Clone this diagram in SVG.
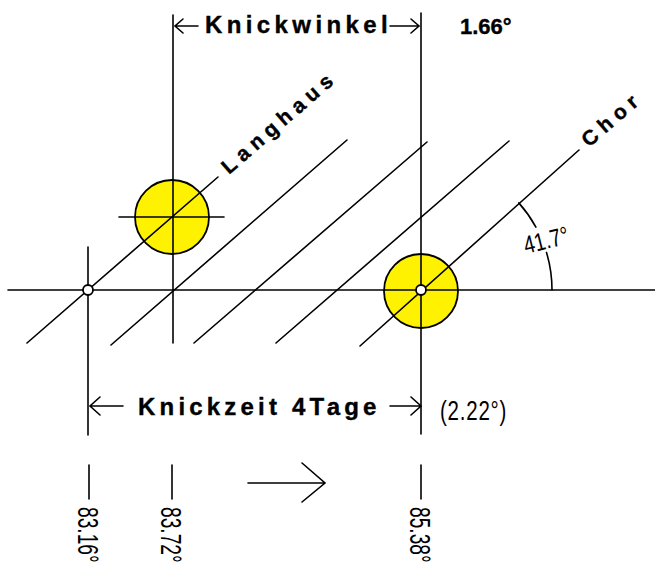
<svg xmlns="http://www.w3.org/2000/svg" width="655" height="566" viewBox="0 0 655 566">
<style>
.ln{stroke:#000;stroke-width:1.6;fill:none;stroke-linecap:round}
.sun{fill:#FFF200;stroke:#000;stroke-width:1.8}
.dot{fill:#fff;stroke:#000;stroke-width:1.8}
.bt{font-family:"Liberation Sans",Arial,sans-serif;font-weight:bold;fill:#000;stroke:#000;stroke-width:0.4}
.nt{font-family:"Liberation Sans",Arial,sans-serif;fill:#000}
</style>
<rect width="655" height="566" fill="#fff"/>
<g id="sun-langhaus"><circle class="sun" cx="172" cy="217" r="37"/></g>
<g id="sun-chor"><circle class="sun" cx="421" cy="291" r="37"/></g>
<g id="connectors">
<line class="ln" x1="8" y1="290" x2="655" y2="290"/>
<line class="ln" x1="173" y1="15" x2="173" y2="343"/>
<line class="ln" x1="421" y1="13" x2="421" y2="434"/>
<line class="ln" x1="88" y1="247" x2="88" y2="435"/>
<line class="ln" x1="119" y1="217" x2="224" y2="217"/>
<line class="ln" x1="27" y1="343" x2="218" y2="177"/>
<line class="ln" x1="111" y1="345" x2="347" y2="140"/>
<line class="ln" x1="194" y1="343" x2="427" y2="142"/>
<line class="ln" x1="276" y1="343" x2="509" y2="141"/>
<line class="ln" x1="360" y1="346" x2="579" y2="150"/>
<path class="ln" d="M518.8,202.9 A131,131 0 0 1 535.9,227.1 M546.5,252.4 A131,131 0 0 1 552,290"/>
<path class="ln" d="M175,26 H198 M183,19 L175,26 L183,33"/>
<path class="ln" d="M390,26 H419 M411,19 L419,26 L411,33"/>
<path class="ln" d="M90,406 H123 M100,397 L90,406 L100,415"/>
<path class="ln" d="M390,406 H421 M411,397 L421,406 L411,415"/>
<line class="ln" x1="89" y1="465" x2="89" y2="499"/>
<line class="ln" x1="172" y1="465" x2="172" y2="499"/>
<line class="ln" x1="421" y1="465" x2="421" y2="499"/>
<path class="ln" d="M248,483 H325 M302,463 L325,483 L302,502" stroke-width="2.6"/>
</g>
<g id="dot-left"><circle class="dot" cx="88" cy="290" r="5"/></g>
<g id="dot-right"><circle class="dot" cx="421" cy="290" r="5"/></g>
<g id="labels">
<text class="bt" x="205" y="33" font-size="24" letter-spacing="4.4">Knickwinkel</text>
<text class="bt" x="460" y="34" font-size="22">1.66°</text>
<text class="bt" font-size="21" letter-spacing="5.8" transform="translate(229,175) rotate(-41)">Langhaus</text>
<text class="bt" font-size="21" letter-spacing="6" transform="translate(589,148) rotate(-41)">Chor</text>
<text class="nt" font-size="25" transform="translate(526,254) rotate(-14) scale(0.78,1)">41.7°</text>
<text class="bt" x="138" y="415" font-size="24" letter-spacing="4.2">Knickzeit  4Tage</text>
<text class="nt" font-size="27" letter-spacing="1" transform="translate(440,420) scale(0.76,1)">(2.22°)</text>
<text class="nt" font-size="30" transform="translate(78,507) rotate(90) scale(0.64,1)">83.16°</text>
<text class="nt" font-size="30" transform="translate(161,507) rotate(90) scale(0.64,1)">83.72°</text>
<text class="nt" font-size="30" transform="translate(410,507) rotate(90) scale(0.64,1)">85.38°</text>
</g>
</svg>
